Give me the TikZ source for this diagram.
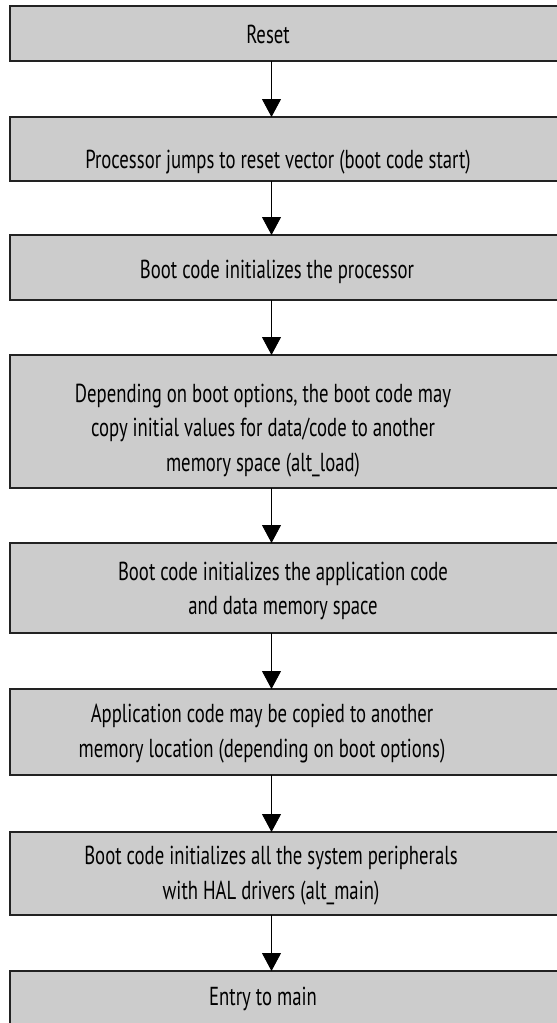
\documentclass[tikz,border=0pt]{standalone}
\usepackage{fontspec}
\setmainfont{PT Sans}[FakeStretch=0.72]
\usetikzlibrary{arrows.meta}
\definecolor{boxgray}{HTML}{CCCCCC}
\definecolor{edgegray}{HTML}{222222}
\begin{document}
\begin{tikzpicture}[x=1pt,y=-1pt,
  flowbox/.style={rectangle, draw=edgegray, line width=1.4pt, fill=boxgray,
    minimum width=560pt, inner sep=0pt, outer sep=0pt, anchor=north west},
  flowtext/.style={align=center, font=\fontsize{26}{34.5}\selectfont, inner sep=0pt, text=black},
  flowarrow/.style={line width=0.9pt, draw=black, -{Triangle[width=19pt,length=18pt]}}]
\useasboundingbox (0,0) rectangle (557,1023);
\clip (0,0) rectangle (557,1023);
\node[flowbox, minimum height=55pt] (b1) at (10,6) {};
\node[flowbox, minimum height=64pt] (b2) at (10,117) {};
\node[flowbox, minimum height=65pt] (b3) at (10,235) {};
\node[flowbox, minimum height=133pt] (b4) at (10,355) {};
\node[flowbox, minimum height=90pt] (b5) at (10,543) {};
\node[flowbox, minimum height=86pt] (b6) at (10,689) {};
\node[flowbox, minimum height=83pt] (b7) at (10,832) {};
\node[flowbox, minimum height=60pt] (b8) at (10,971) {};
\coordinate (ax) at (271.5,0);
\draw[flowarrow] (b1.south -| ax) -- (b2.north -| ax);
\draw[flowarrow] (b2.south -| ax) -- (b3.north -| ax);
\draw[flowarrow] (b3.south -| ax) -- (b4.north -| ax);
\draw[flowarrow] (b4.south -| ax) -- (b5.north -| ax);
\draw[flowarrow] (b5.south -| ax) -- (b6.north -| ax);
\draw[flowarrow] (b6.south -| ax) -- (b7.north -| ax);
\draw[flowarrow] (b7.south -| ax) -- (b8.north -| ax);
\node[flowtext] (t1) at (268,34.5) {Reset};
\node[flowtext] (t2) at (278,162) {Processor jumps to reset vector (boot code start)};
\node[flowtext] (t3) at (277,272) {Boot code initializes the processor};
\node[flowtext] (t4) at (263,430.5) {Depending on boot options, the boot code may\\copy initial values for data/code to another\\memory space (alt\_load)};
\node[flowtext] (t5) at (283,591) {Boot code initializes the application code\\and data memory space};
\node[flowtext] (t6) at (262,733.5) {Application code may be copied to another\\memory location (depending on boot options)};
\node[flowtext] (t7) at (271,875.5) {Boot code initializes all the system peripherals\\with HAL drivers (alt\_main)};
\node[flowtext] (t8) at (263,998.5) {Entry to main};
\end{tikzpicture}
\end{document}
